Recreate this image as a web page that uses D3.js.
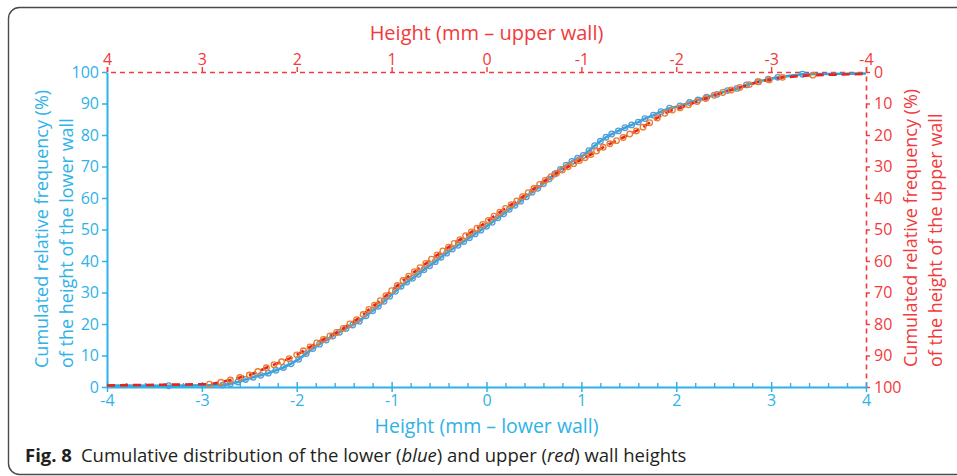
<!DOCTYPE html>
<html>
<head>
<meta charset="utf-8">
<script src="https://cdn.jsdelivr.net/npm/d3@7"></script>
<style>
  html, body { margin: 0; padding: 0; background: #fff; }
  svg { display: block; }
  text { font-family: "Open Sans", "Noto Sans", sans-serif; }
</style>
</head>
<body>
<svg id="chart" width="957" height="476"></svg>
<script>
// Lower wall: height (mm) and cumulated relative frequency (%)
const lowerHeight = [-4.00, -3.35, -2.78, -2.70, -2.62, -2.54, -2.46, -2.38, -2.30, -2.22, -2.14, -2.06, -1.98, -1.90, -1.83, -1.76, -1.69, -1.62, -1.55, -1.48, -1.41, -1.34, -1.27, -1.20, -1.14, -1.08, -1.02, -0.96, -0.90, -0.84, -0.78, -0.72, -0.66, -0.60, -0.54, -0.48, -0.42, -0.36, -0.30, -0.24, -0.18, -0.12, -0.06, 0.00, 0.06, 0.12, 0.18, 0.24, 0.30, 0.36, 0.42, 0.48, 0.54, 0.60, 0.66, 0.72, 0.78, 0.84, 0.90, 0.96, 1.02, 1.08, 1.14, 1.20, 1.26, 1.32, 1.39, 1.46, 1.53, 1.60, 1.67, 1.76, 1.84, 1.93, 2.04, 2.14, 2.23, 2.32, 2.43, 2.54, 2.64, 2.74, 2.86, 2.97, 3.07, 3.33, 4.00];
const lowerFreq = [0.5, 0.4, 0.6, 1.0, 1.6, 2.4, 3.1, 3.7, 4.4, 5.3, 6.2, 7.4, 8.8, 10.6, 12.2, 13.6, 14.9, 16.2, 17.4, 18.6, 19.7, 20.9, 22.6, 24.2, 25.6, 27.2, 28.8, 30.4, 32.0, 33.3, 34.5, 35.8, 37.2, 38.5, 39.8, 41.2, 42.5, 43.8, 45.0, 46.2, 47.4, 48.6, 49.8, 51.0, 52.3, 53.7, 55.0, 56.4, 57.7, 59.0, 60.4, 61.8, 63.1, 64.5, 66.0, 67.6, 69.1, 70.4, 71.6, 72.6, 73.5, 75.0, 76.6, 78.0, 79.3, 80.3, 81.3, 82.3, 83.2, 84.1, 85.2, 86.3, 87.4, 88.5, 89.2, 90.3, 91.1, 92.0, 92.9, 94.1, 94.8, 95.9, 96.9, 97.7, 98.3, 99.3, 99.5];

// Upper wall: height (mm) and cumulated relative frequency (%)
const upperHeight = [4.00, 2.92, 2.80, 2.70, 2.60, 2.50, 2.41, 2.32, 2.24, 2.16, 2.08, 2.00, 1.93, 1.86, 1.79, 1.72, 1.65, 1.58, 1.51, 1.44, 1.37, 1.30, 1.24, 1.18, 1.12, 1.06, 1.00, 0.94, 0.88, 0.82, 0.76, 0.70, 0.64, 0.58, 0.52, 0.46, 0.40, 0.34, 0.28, 0.22, 0.16, 0.10, 0.04, -0.02, -0.08, -0.14, -0.20, -0.26, -0.32, -0.38, -0.44, -0.50, -0.56, -0.62, -0.68, -0.74, -0.80, -0.86, -0.92, -0.98, -1.04, -1.10, -1.16, -1.23, -1.30, -1.37, -1.44, -1.51, -1.58, -1.65, -1.72, -1.80, -1.88, -1.96, -2.04, -2.13, -2.22, -2.31, -2.40, -2.49, -2.58, -2.67, -2.77, -2.87, -2.98, -3.12, -3.44, -4.00];
const upperFreq = [99.5, 99.1, 98.5, 97.8, 97.0, 96.2, 95.1, 93.9, 92.9, 92.0, 91.0, 89.8, 88.5, 87.3, 86.0, 84.9, 83.8, 82.7, 81.4, 80.0, 78.6, 77.0, 75.4, 74.0, 72.6, 71.0, 69.4, 67.8, 66.2, 64.8, 63.4, 62.1, 60.8, 59.4, 58.1, 56.8, 55.6, 54.4, 53.2, 52.0, 50.8, 49.6, 48.4, 47.1, 45.8, 44.5, 43.3, 42.1, 40.9, 39.6, 38.3, 37.0, 35.7, 34.4, 33.2, 32.1, 31.1, 30.1, 29.1, 28.1, 27.2, 26.2, 25.1, 23.9, 22.8, 21.8, 20.8, 19.7, 18.7, 17.5, 16.1, 14.6, 13.1, 12.1, 11.4, 10.4, 9.4, 8.4, 7.4, 6.5, 5.7, 4.9, 4.0, 3.1, 2.5, 1.7, 1.0, 0.6];

// Axis ticks
const heightTicks = [-4, -3, -2, -1, 0, 1, 2, 3, 4];
const freqTicks = [0, 10, 20, 30, 40, 50, 60, 70, 80, 90, 100];

const BLUE_AXIS = "#2fb2e8";
const BLUE_LINE = "#27a9e1";
const BLUE_MARK = "#5b9bd5";
const RED_AXIS = "#f23a3c";
const RED_LINE = "#e8231d";
const ORANGE_MARK = "#ed7d31";
const TICK_FONT = "16px";

const svg = d3.select("#chart");
const plot = { left: 107, right: 866, top: 72, bottom: 387 };

// Lower wall scales (bottom / left) and upper wall scales (top / right, reversed)
const xLower = d3.scaleLinear().domain([-4, 4]).range([plot.left, plot.right]);
const yLower = d3.scaleLinear().domain([0, 100]).range([plot.bottom, plot.top]);
const xUpper = d3.scaleLinear().domain([4, -4]).range([plot.left, plot.right]);
const yUpper = d3.scaleLinear().domain([100, 0]).range([plot.bottom, plot.top]);

// plain hyphen for negative labels
const fmt = d => String(d);

// Frame round the figure
svg.append("rect")
  .attr("x", 8.5).attr("y", 7.5)
  .attr("width", 980).attr("height", 467)
  .attr("rx", 11).attr("ry", 11)
  .attr("fill", "none").attr("stroke", "#4a4a4a").attr("stroke-width", 1.4);

// ---- Top axis (upper wall height), red dashed ----
const topAxis = svg.append("g").attr("transform", `translate(0,${plot.top})`)
  .call(d3.axisTop(xUpper).tickValues(heightTicks).tickSize(5).tickPadding(2).tickFormat(fmt));
topAxis.select(".domain").attr("stroke", RED_AXIS).attr("stroke-width", 1.6).attr("stroke-dasharray", "5,4");
topAxis.selectAll(".tick line").attr("stroke", RED_AXIS).attr("stroke-width", 1.4);
topAxis.selectAll(".tick text").attr("fill", RED_AXIS).style("font-size", TICK_FONT).style("font-family", "'Open Sans', sans-serif");

// ---- Right axis (upper wall frequency), red dashed ----
const rightAxis = svg.append("g").attr("transform", `translate(${plot.right},0)`)
  .call(d3.axisRight(yUpper).tickValues(freqTicks).tickSize(4).tickPadding(4).tickSizeOuter(0).tickFormat(fmt));
rightAxis.select(".domain").attr("stroke", RED_AXIS).attr("stroke-width", 1.6).attr("stroke-dasharray", "5,4");
rightAxis.selectAll(".tick line").attr("stroke", RED_AXIS).attr("stroke-width", 1.4);
rightAxis.selectAll(".tick text").attr("fill", RED_AXIS).style("font-size", TICK_FONT).style("font-family", "'Open Sans', sans-serif");

// ---- Left axis (lower wall frequency), blue ----
const leftAxis = svg.append("g").attr("transform", `translate(${plot.left},0)`)
  .call(d3.axisLeft(yLower).tickValues(freqTicks).tickSize(5).tickPadding(3).tickSizeOuter(0).tickFormat(fmt));
leftAxis.select(".domain").attr("stroke", BLUE_AXIS).attr("stroke-width", 2);
leftAxis.selectAll(".tick line").attr("stroke", BLUE_AXIS).attr("stroke-width", 1.5);
leftAxis.selectAll(".tick text").attr("fill", BLUE_AXIS).style("font-size", TICK_FONT).style("font-family", "'Open Sans', sans-serif");

// ---- Bottom axis (lower wall height), blue with minor ticks ----
const minorTicks = d3.range(-4, 4.001, 0.2).map(v => Math.round(v * 10) / 10)
  .filter(v => !heightTicks.includes(v));
const bottomMinor = svg.append("g").attr("transform", `translate(0,${plot.bottom})`)
  .call(d3.axisTop(xLower).tickValues(minorTicks).tickSize(4).tickFormat(""));
bottomMinor.select(".domain").remove();
bottomMinor.selectAll(".tick line").attr("stroke", BLUE_AXIS).attr("stroke-width", 1.4);

const bottomAxis = svg.append("g").attr("transform", `translate(0,${plot.bottom})`)
  .call(d3.axisBottom(xLower).tickValues(heightTicks).tickSize(5).tickPadding(3).tickSizeOuter(0).tickFormat(fmt));
bottomAxis.select(".domain").attr("stroke", BLUE_AXIS).attr("stroke-width", 2);
bottomAxis.selectAll(".tick line").attr("stroke", BLUE_AXIS).attr("stroke-width", 1.5).attr("y1", -5);
bottomAxis.selectAll(".tick text").attr("fill", BLUE_AXIS).style("font-size", TICK_FONT).style("font-family", "'Open Sans', sans-serif");

// ---- Series ----
const lowerData = d3.zip(lowerHeight, lowerFreq);
const upperData = d3.zip(upperHeight, upperFreq);
const inside = d => d[0] > -4 && d[0] < 4;

const lowerLine = d3.line().x(d => xLower(d[0])).y(d => yLower(d[1]));
const upperLine = d3.line().x(d => xUpper(d[0])).y(d => yUpper(d[1]));

const gLower = svg.append("g");
gLower.append("path").datum(lowerData).attr("d", lowerLine)
  .attr("fill", "none").attr("stroke", BLUE_LINE).attr("stroke-width", 2.6).attr("stroke-linejoin", "round");
gLower.selectAll("circle").data(lowerData.filter(inside)).join("circle")
  .attr("cx", d => xLower(d[0])).attr("cy", d => yLower(d[1])).attr("r", 2.8)
  .attr("fill", "none").attr("stroke", BLUE_MARK).attr("stroke-width", 1.3);

const gUpper = svg.append("g");
gUpper.append("path").datum(upperData).attr("d", upperLine)
  .attr("fill", "none").attr("stroke", RED_LINE).attr("stroke-width", 2.6)
  .attr("stroke-dasharray", "8,5");
gUpper.selectAll("circle").data(upperData.filter(inside)).join("circle")
  .attr("cx", d => xUpper(d[0])).attr("cy", d => yUpper(d[1])).attr("r", 2.8)
  .attr("fill", "none").attr("stroke", ORANGE_MARK).attr("stroke-width", 1.3);

// ---- Axis titles ----
const cx = (plot.left + plot.right) / 2;
svg.append("text").attr("x", cx).attr("y", 40).attr("text-anchor", "middle")
  .attr("fill", RED_AXIS).style("font-size", "20px").text("Height (mm \u2013 upper wall)");
svg.append("text").attr("x", cx).attr("y", 433).attr("text-anchor", "middle")
  .attr("fill", BLUE_AXIS).style("font-size", "19.5px").text("Height (mm \u2013 lower wall)");

const leftTitle = svg.append("text").attr("transform", "translate(48,368) rotate(-90)")
  .attr("fill", BLUE_AXIS).style("font-size", "18px");
leftTitle.append("tspan").attr("x", 0).attr("y", 0).text("Cumulated relative frequency (%)");
leftTitle.append("tspan").attr("x", 0).attr("y", 25).text("of the height of the lower wall");

const rightTitle = svg.append("text").attr("transform", "translate(917,367) rotate(-90)")
  .attr("fill", RED_AXIS).style("font-size", "18px");
rightTitle.append("tspan").attr("x", 0).attr("y", 0).text("Cumulated relative frequency (%)");
rightTitle.append("tspan").attr("x", 0).attr("y", 25).text("of the height of the upper wall");

// ---- Caption ----
const caption = svg.append("text").attr("x", 25).attr("y", 462)
  .attr("fill", "#231f20").style("font-size", "18.5px");
caption.append("tspan").style("font-weight", "bold").text("Fig. 8");
caption.append("tspan").attr("dx", 9).text("Cumulative distribution of the lower (");
caption.append("tspan").style("font-style", "italic").text("blue");
caption.append("tspan").text(") and upper (");
caption.append("tspan").style("font-style", "italic").text("red");
caption.append("tspan").text(") wall heights");
</script>
</body>
</html>
